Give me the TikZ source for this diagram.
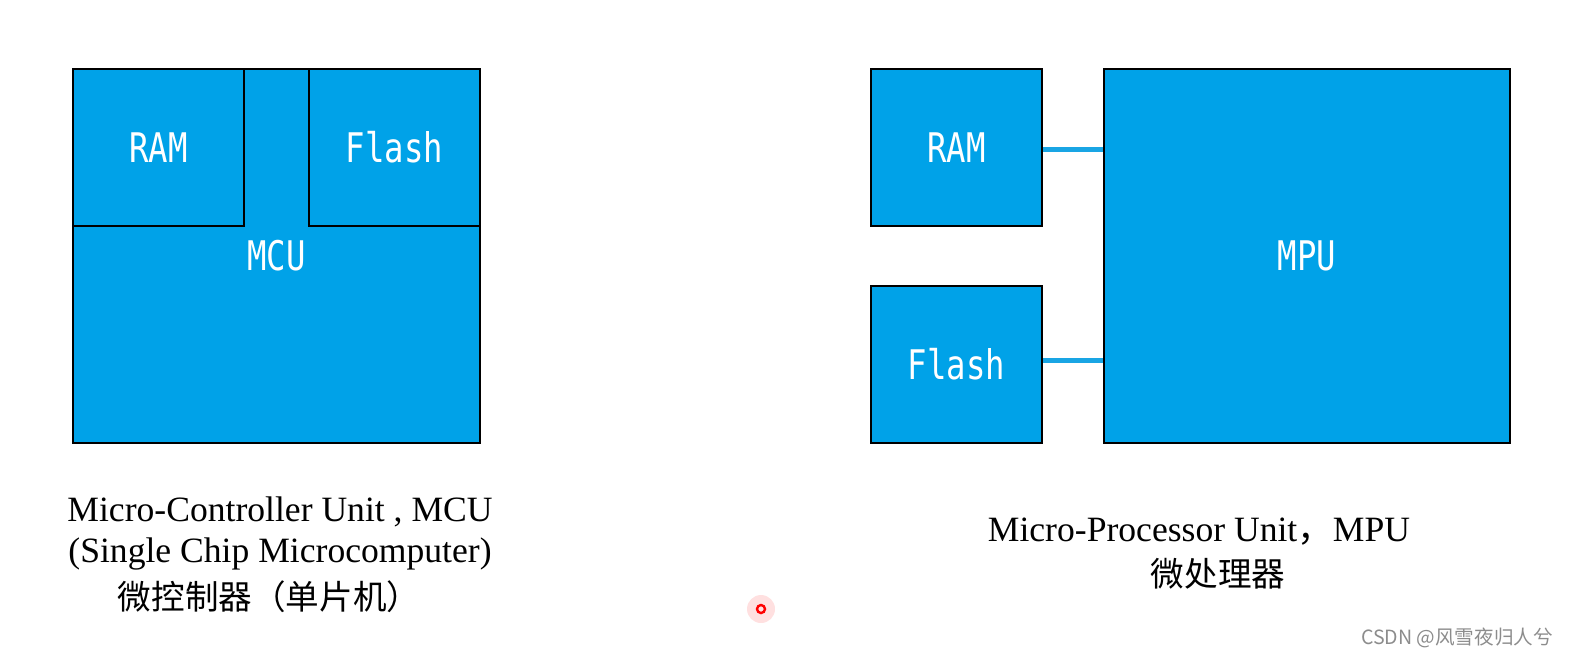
\documentclass[tikz,border=0pt]{standalone}
\usepackage{fontspec}
\setmainfont{Liberation Serif}
\newfontfamily\cjk{Noto Sans CJK SC}
\newfontfamily\chipfont{DejaVu Sans Mono}
\usepackage{xcolor}
\usetikzlibrary{positioning}
\definecolor{chipblue}{RGB}{0,162,232}
\definecolor{busblue}{RGB}{25,165,228}
\newcommand{\chiplabel}[1]{\scalebox{0.95}[1.2]{#1}}

\begin{document}
\begin{tikzpicture}[x=0.5pt, y=-0.5pt,
    chip box/.style={
        rectangle,
        draw=black,
        fill=chipblue,
        line width=1.2pt,
        inner sep=0pt,
        text=white,
        font=\chipfont\fontsize{17}{17}\selectfont
    },
    part box/.style={
        chip box,
        minimum width=85.5pt,
        minimum height=78.5pt
    },
    big box/.style={
        chip box,
        minimum width=203.5pt,
        minimum height=187pt
    },
    caption/.style={font=\fontsize{17.8}{21}\selectfont, inner sep=0pt},
    caption cn/.style={font=\cjk\fontsize{16.8}{20}\selectfont, inner sep=0pt}
]
    \useasboundingbox (0,0) rectangle (1569,661);

    % left: MCU with memory inside
    \node[big box] (mcu) at (276.5,256) {\chiplabel{MCU}};
    \node[part box] (ramA) at (158.5,147.5) {\chiplabel{RAM}};
    \node[part box] (flashA) at (394.5,147.5) {\chiplabel{Flash}};

    % right: MPU with memory outside
    \node[big box, minimum width=203pt] (mpu) at (1307,256) {\chiplabel{MPU}};
    \node[part box] (ram) at (956.5,147.5) {\chiplabel{RAM}};
    \node[part box] (flash) at (956.5,364.5) {\chiplabel{Flash}};
    \draw[busblue, line width=2.6pt] ([yshift=-1pt]ram.east) -- ([yshift=-1pt]ram.east -| mpu.west);
    \draw[busblue, line width=2.6pt] ([yshift=2pt]flash.east) -- ([yshift=2pt]flash.east -| mpu.west);

    % captions
    \node[caption] (capA1) at (280,512) {Micro-Controller Unit , MCU};
    \node[caption] (capA2) at (280,554) {(Single Chip Microcomputer)};
    \node[caption cn] (capA3) at (269,597) {微控制器（单片机）};
    \node[caption] (capB1) at (1199,532) {Micro-Processor Unit{\cjk ，}MPU};
    \node[caption cn] (capB2) at (1218,574) {微处理器};

    % pointer dot and watermark
    \fill[red, opacity=0.12] (761,609) circle (7pt);
    \draw[red, line width=1.2pt] (761,609) circle (2pt);
    \node[font=\cjk\fontsize{9.8}{12}\selectfont, text=black!45] (mark) at (1457,638) {CSDN @风雪夜归人兮};
\end{tikzpicture}
\end{document}
